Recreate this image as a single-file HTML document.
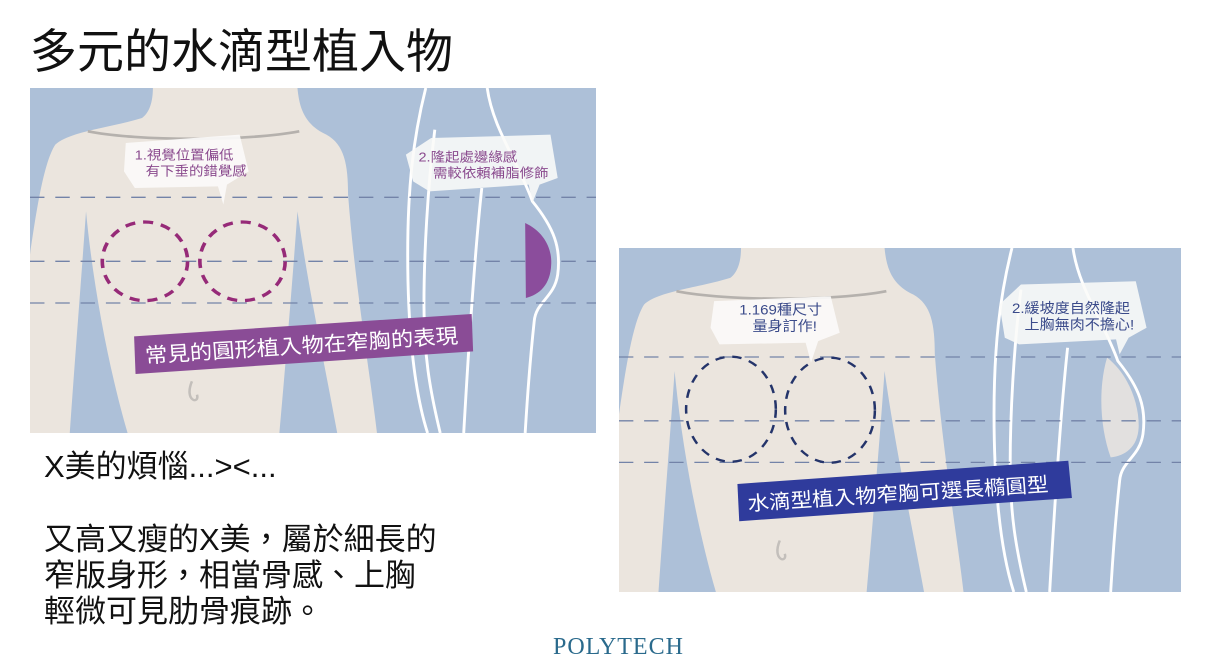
<!DOCTYPE html>
<html><head><meta charset="utf-8"><style>
body{margin:0;width:1207px;height:671px;background:#fff;position:relative;overflow:hidden;font-family:"Liberation Sans","Noto Sans CJK TC",sans-serif;color:#111}
.t{position:absolute;white-space:nowrap}
svg{position:absolute}
</style></head><body>
<div class="t" style="left:30px;top:21px;font-size:47px;line-height:62px">多元的水滴型植入物</div>

<svg style="left:30px;top:88px" width="566" height="345" viewBox="0 0 1566 1035" preserveAspectRatio="none">
<defs>
<g id="fig">
<rect width="1566" height="1035" fill="#adc0d8"/>
<path d="M340,0 L740,0 C745,60 760,110 820,140 C870,170 880,230 880,320 C900,600 940,850 960,1035 L0,1035 L0,500 C20,350 40,220 70,170 C110,130 220,120 310,90 C335,70 340,30 340,0Z" fill="#ebe5de"/>
<path d="M155,370 C175,600 220,850 270,1035 L110,1035 C125,800 140,600 155,370Z" fill="#adc0d8"/>
<path d="M740,370 C725,600 705,850 690,1035 L850,1035 C810,800 770,600 740,370Z" fill="#adc0d8"/>
<path d="M160,130 C300,160 600,160 745,130" stroke="#b5b1ad" stroke-width="8" fill="none"/>
<path d="M448,880 C425,940 470,950 462,920" stroke="#c3bfbb" stroke-width="7" fill="none"/>
<g stroke="#fff" stroke-width="8" fill="none">
<path d="M1095,0 C1060,150 1045,300 1045,500 C1045,700 1060,900 1100,1035"/>
<path d="M1120,125 C1100,300 1090,500 1090,650 C1090,800 1105,900 1135,1035"/>
<path d="M1265,0 C1280,120 1350,220 1390,340 C1450,420 1470,480 1460,560 C1450,630 1400,640 1395,700 C1380,850 1375,950 1370,1035"/>
<path d="M1250,300 C1230,500 1215,750 1200,1035"/>
</g>
</g>
</defs>
<use href="#fig"/>
<path d="M265,165 L580,140 L605,250 L545,290 L535,350 L520,295 L290,300 L260,250Z" fill="#fbfaf8" opacity=".92"/>
<path d="M1040,200 L1110,150 L1440,140 L1460,270 L1410,290 L1390,345 L1380,290 L1105,310 L1060,280Z" fill="#fbfaf8" opacity=".88"/>
<g font-size="40" font-family="Liberation Sans,Noto Sans CJK TC,sans-serif" fill="#8a4a8e">
<text x="290" y="215">1.視覺位置偏低</text>
<text x="320" y="262">有下垂的錯覺感</text>
<text x="1075" y="220">2.隆起處邊緣感</text>
<text x="1115" y="268">需較依賴補脂修飾</text>
</g>
<g stroke="#7383a8" stroke-width="4" stroke-dasharray="40 30"><line x1="0" y1="328" x2="1566" y2="328"/><line x1="0" y1="520" x2="1566" y2="520"/><line x1="0" y1="645" x2="1566" y2="645"/></g>
<g stroke="#962a78" stroke-width="10" fill="none" stroke-dasharray="28 22"><circle cx="318" cy="520" r="118"/><circle cx="588" cy="520" r="118"/></g>
<path d="M1370,405 C1420,430 1445,480 1442,530 C1440,590 1410,620 1372,630Z" fill="#8b4d9c"/>
<path d="M288,745 L1222,678 L1226,790 L292,858Z" fill="#8a4c96"/>
<text x="320" y="825" font-size="62" fill="#fff" transform="rotate(-4 320 825)" font-family="Liberation Sans,Noto Sans CJK TC,sans-serif">常見的圓形植入物在窄胸的表現</text>
</svg>

<svg style="left:619px;top:248px" width="562" height="344" viewBox="0 0 1566 1035" preserveAspectRatio="none">
<use href="#fig"/>
<path d="M265,160 L590,145 L615,255 L555,280 L535,345 L520,285 L280,290 L255,240Z" fill="#fbfaf8" opacity=".92"/>
<path d="M1060,170 L1120,110 L1440,100 L1470,240 L1420,270 L1395,320 L1385,275 L1115,290 L1075,270Z" fill="#fbfaf8" opacity=".88"/>
<g font-size="42" font-family="Liberation Sans,Noto Sans CJK TC,sans-serif" fill="#3a4a8a">
<text x="335" y="200">1.169種尺寸</text>
<text x="372" y="250">量身訂作!</text>
<text x="1095" y="195">2.緩坡度自然隆起</text>
<text x="1130" y="245">上胸無肉不擔心!</text>
</g>
<path d="M1360,330 C1420,380 1450,470 1448,540 C1445,600 1410,625 1370,630 C1340,540 1335,420 1360,330Z" fill="#e2e0df"/>
<g stroke="#7383a8" stroke-width="4" stroke-dasharray="40 30"><line x1="0" y1="328" x2="1566" y2="328"/><line x1="0" y1="520" x2="1566" y2="520"/><line x1="0" y1="645" x2="1566" y2="645"/></g>
<g stroke="#24346a" stroke-width="7" fill="none" stroke-dasharray="26 22"><ellipse cx="312" cy="485" rx="125" ry="158"/><ellipse cx="588" cy="488" rx="125" ry="158"/></g>
<path d="M330,710 L1252,640 L1262,752 L335,822Z" fill="#2f3b9c"/>
<text x="360" y="790" font-size="60" fill="#fff" transform="rotate(-4 360 790)" font-family="Liberation Sans,Noto Sans CJK TC,sans-serif">水滴型植入物窄胸可選長橢圓型</text>
</svg>

<div class="t" style="left:44px;top:448px;font-size:31px;line-height:38px">X美的煩惱...&gt;&lt;...</div>
<div class="t" style="left:44px;top:522px;font-size:31px;line-height:36px">又高又瘦的X美，屬於細長的<br>窄版身形，相當骨感、上胸<br>輕微可見肋骨痕跡。</div>
<div class="t" style="left:553px;top:632px;font-size:24px;line-height:30px;color:#2a6a8c;font-family:'Liberation Serif',serif;letter-spacing:1px">POLYTECH</div>
</body></html>
